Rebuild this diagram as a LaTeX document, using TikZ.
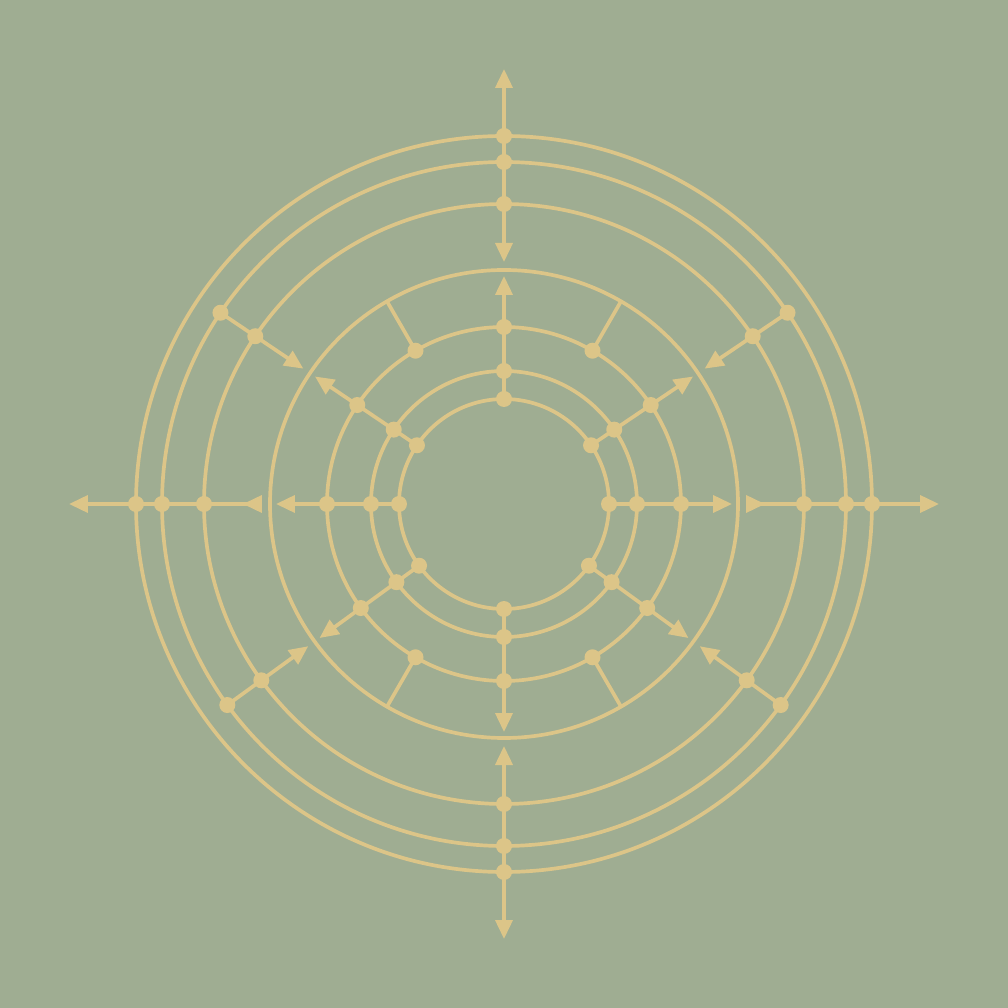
\documentclass[tikz,border=0pt]{standalone}
\usetikzlibrary{arrows.meta}
\definecolor{sage}{HTML}{9FAD92}
\definecolor{gold}{HTML}{DCC588}

\begin{document}
\begin{tikzpicture}
        \tikzset{ring/.style={draw=gold, line width=1.05pt},
            spoke/.style={draw=gold, line width=1.05pt},
            knot/.style={circle, fill=gold, inner sep=0pt, minimum size=0.16cm},
            tip/.style={-{Triangle[length=0.19cm, width=0.17cm]}},
            inward/.style={{Triangle[length=0.19cm, width=0.17cm]}-{Triangle[length=0.19cm, width=0.17cm]}},
            outward/.style={{Triangle[length=0.19cm, width=0.17cm]}-{Triangle[length=0.19cm, width=0.17cm, reversed]}}}
        \fill[sage] (-5.04,-5.04) rectangle (5.04,5.04);
        \coordinate (o) at (0,0);
        \foreach \r in {1.05,1.33,1.77,2.34,3.00,3.42,3.68}
            \draw[ring] (o) circle (\r);
        % outer spokes on the axes
        \foreach \a/\ends in {90/inward, 270/inward, 0/outward, 180/outward} {
            \coordinate (far\a) at (\a:4.35);
            \coordinate (gap\a) at (\a:2.42);
            \draw[spoke, \ends] (far\a) -- (gap\a);
            \node[knot] (a\a) at (\a:3.68) {};
        }
        % outer spokes on the diagonals
        \foreach \a in {34,146,216,324} {
            \coordinate (gap\a) at (\a:2.42);
            \draw[spoke, tip] (\a:3.42) -- (gap\a);
        }
        \foreach \a in {0,90,180,270,34,146,216,324} {
            \node[knot] (b\a) at (\a:3.42) {};
            \node[knot] (c\a) at (\a:3.00) {};
        }
        % inner spokes
        \foreach \a in {0,90,180,270,34,146,216,324} {
            \coordinate (rim\a) at (\a:2.28);
            \draw[spoke, tip] (\a:1.05) -- (rim\a);
            \node[knot] (d\a) at (\a:1.05) {};
            \node[knot] (e\a) at (\a:1.33) {};
        }
        \foreach \a in {60,120,240,300} {
            \coordinate (rim\a) at (\a:2.34);
            \draw[spoke] (\a:1.77) -- (rim\a);
        }
        \foreach \a in {0,90,180,270,34,146,216,324,60,120,240,300}
            \node[knot] (f\a) at (\a:1.77) {};
\end{tikzpicture}
\end{document}
